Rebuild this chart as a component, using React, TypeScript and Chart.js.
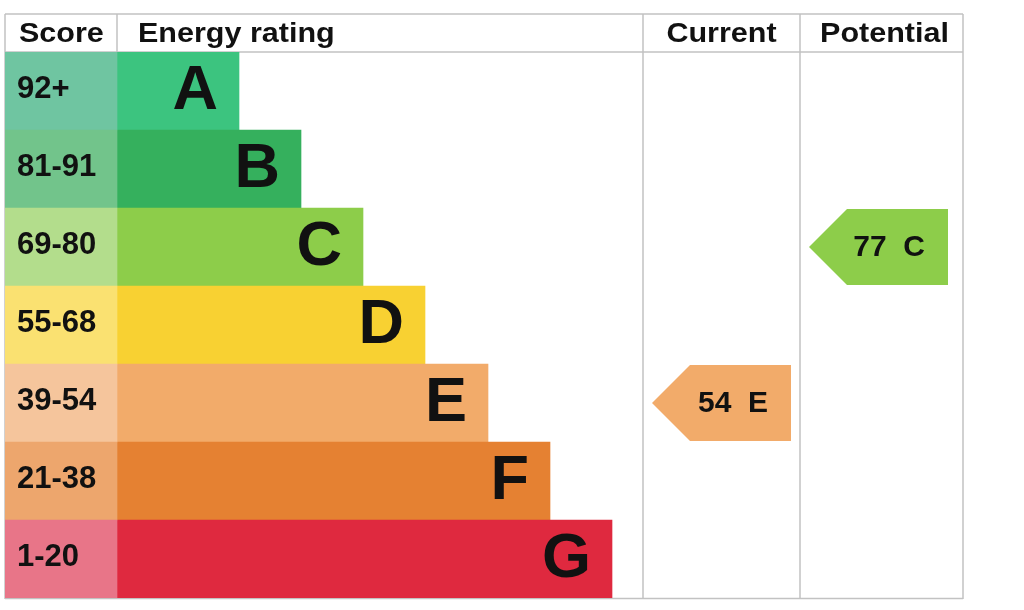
import React, { useEffect, useRef } from 'react';
import { Chart, registerables } from 'chart.js';

Chart.register(...registerables);

// ---- data ----
const bands = ['A', 'B', 'C', 'D', 'E', 'F', 'G'];
const scoreRanges = ['92+', '81-91', '69-80', '55-68', '39-54', '21-38', '1-20'];
const bandBarEnds = [234, 296, 358, 420, 483, 545, 607];
const bandColors = ['#3cc47f', '#35b05d', '#8dcd4a', '#f8d132', '#f2ab6a', '#e58132', '#df293f'];
const scoreColors = ['#6fc5a1', '#72c48b', '#b3dd8c', '#fae171', '#f5c59c', '#eda66d', '#e87588'];
const headers = ['Score', 'Energy rating', 'Current', 'Potential'];
const currentScore = 54;
const currentBand = 'E';
const potentialScore = 77;
const potentialBand = 'C';

// ---- layout (x-scale units) ----
const columnEdges = [0, 112, 638, 795, 958];
const FONT = 'Arial, "Liberation Sans", sans-serif';
const GRID = '#c2c2c2';

function stretchedText(ctx: any, text: string, x: number, y: number, align: string, sx: number) {
  ctx.save();
  ctx.translate(x, y);
  ctx.scale(sx, 1);
  ctx.textAlign = align;
  ctx.fillText(text, 0, 0);
  ctx.restore();
}

const tablePlugin = {
  id: 'epcTable',
  beforeDatasetsDraw(chart: any) {
    const { ctx, chartArea } = chart;
    const xs = chart.scales.x;
    const top = 14;
    const headBottom = chartArea.top;
    const bottom = chartArea.bottom;
    const px = columnEdges.map((v) => xs.getPixelForValue(v));
    ctx.save();
    ctx.strokeStyle = GRID;
    ctx.lineWidth = 1.5;
    ctx.beginPath();
    ctx.moveTo(px[0], top); ctx.lineTo(px[4], top);
    ctx.moveTo(px[0], headBottom); ctx.lineTo(px[4], headBottom);
    ctx.moveTo(px[0], bottom + 0.5); ctx.lineTo(px[4], bottom + 0.5);
    px.forEach((x: number) => { ctx.moveTo(x, top); ctx.lineTo(x, bottom + 1); });
    ctx.stroke();
    // headers
    ctx.fillStyle = '#111';
    ctx.font = `bold 28px ${FONT}`;
    ctx.textBaseline = 'middle';
    const hy = (top + headBottom) / 2 + 1.5;
    const sx = 1.09;
    stretchedText(ctx, headers[0], px[0] + 14, hy, 'left', sx);
    stretchedText(ctx, headers[1], px[1] + 21, hy, 'left', sx);
    stretchedText(ctx, headers[2], (px[2] + px[3]) / 2, hy, 'center', sx);
    stretchedText(ctx, headers[3], (px[3] + px[4]) / 2 + 3, hy, 'center', sx);
    ctx.restore();
  },
  afterDatasetsDraw(chart: any) {
    const { ctx } = chart;
    const xs = chart.scales.x;
    const ys = chart.scales.y;
    ctx.save();
    ctx.fillStyle = '#111';
    ctx.textBaseline = 'middle';
    // score labels
    ctx.font = `bold 31px ${FONT}`;
    ctx.textAlign = 'left';
    scoreRanges.forEach((s, i) => {
      ctx.fillText(s, xs.getPixelForValue(columnEdges[0]) + 12, ys.getPixelForValue(i) - 2);
    });
    // band letters
    const meta = chart.getDatasetMeta(1);
    ctx.font = `bold 63px ${FONT}`;
    ctx.textAlign = 'right';
    meta.data.forEach((bar: any, i: number) => {
      ctx.fillText(bands[i], bar.x - 21, bar.y + 1);
    });
    // arrows
    const drawArrow = (band: string, score: number, col: number) => {
      const i = bands.indexOf(band);
      const cy = ys.getPixelForValue(i);
      const half = (ys.getPixelForValue(1) - ys.getPixelForValue(0)) / 2 - 1;
      const left = xs.getPixelForValue(columnEdges[col] + 9);
      const right = xs.getPixelForValue(columnEdges[col] + 148);
      const tip = half;
      ctx.fillStyle = bandColors[i];
      ctx.beginPath();
      ctx.moveTo(left, cy);
      ctx.lineTo(left + tip, cy - half);
      ctx.lineTo(right, cy - half);
      ctx.lineTo(right, cy + half);
      ctx.lineTo(left + tip, cy + half);
      ctx.closePath();
      ctx.fill();
      ctx.fillStyle = '#111';
      ctx.font = `bold 30px ${FONT}`;
      ctx.textAlign = 'right';
      ctx.fillText(`${score}  ${band}`, right - 23, cy + 1);
    };
    drawArrow(currentBand, currentScore, 2);
    drawArrow(potentialBand, potentialScore, 3);
    ctx.restore();
  },
};

export default function App() {
  const ref = useRef<HTMLCanvasElement>(null);
  useEffect(() => {
    document.body.style.margin = '0';
    const chart = new Chart(ref.current as HTMLCanvasElement, {
      type: 'bar',
      data: {
        labels: bands,
        datasets: [
          {
            label: 'Score',
            data: bands.map(() => [columnEdges[0], columnEdges[1]]) as any,
            backgroundColor: scoreColors,
            borderWidth: 0,
            barPercentage: 1,
            categoryPercentage: 1,
            grouped: false,
          },
          {
            label: 'Energy rating',
            data: bands.map((_, i) => [columnEdges[1], bandBarEnds[i]]) as any,
            backgroundColor: bandColors,
            borderWidth: 0,
            barPercentage: 1,
            categoryPercentage: 1,
            grouped: false,
          },
        ],
      },
      options: {
        indexAxis: 'y',
        animation: false,
        responsive: false,
        maintainAspectRatio: false,
        layout: { padding: { left: 5, right: 61, top: 52, bottom: 12 } },
        plugins: { legend: { display: false }, tooltip: { enabled: false }, title: { display: false } },
        scales: {
          x: { type: 'linear', min: columnEdges[0], max: columnEdges[4], display: false },
          y: { type: 'category', display: false, offset: true },
        },
      },
      plugins: [tablePlugin],
    } as any);
    let alive = true;
    if ((document as any).fonts) {
      (document as any).fonts.load(`bold 29px ${FONT}`).then(() => { if (alive) chart.update(); }).catch(() => {});
    }
    return () => { alive = false; chart.destroy(); };
  }, []);
  return (
    <div style={{ position: 'absolute', left: 0, top: 0, width: 1024, height: 610, background: '#fff' }}>
      <span style={{ position: 'absolute', left: -9999, fontFamily: FONT, fontWeight: 'bold' }}>Aa</span>
      <canvas ref={ref} width={1024} height={610} style={{ display: 'block' }} />
    </div>
  );
}
